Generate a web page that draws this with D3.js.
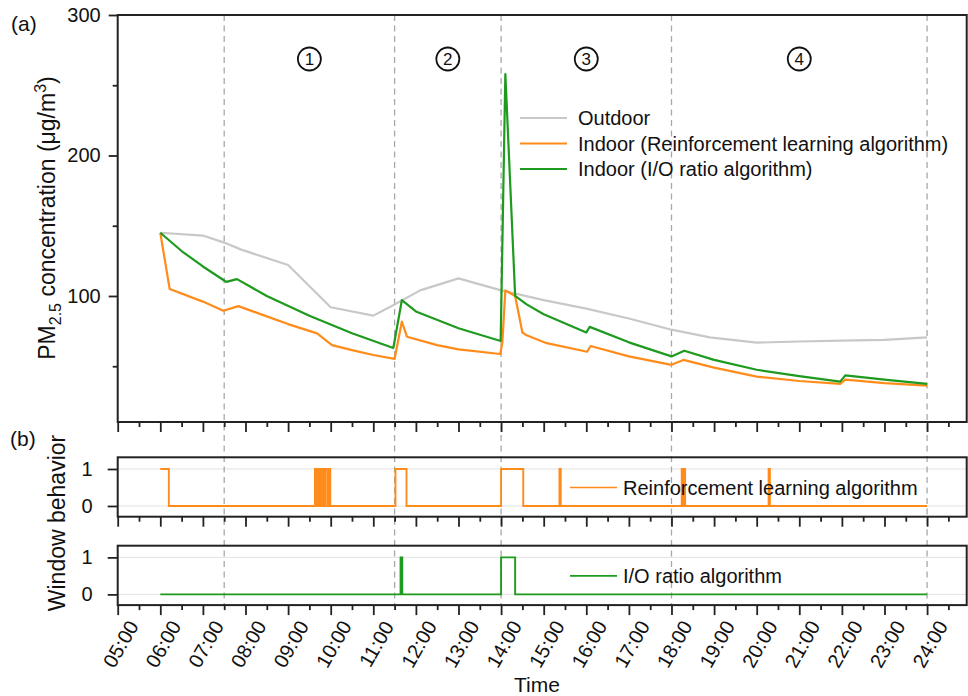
<!DOCTYPE html>
<html>
<head>
<meta charset="utf-8">
<script src="https://cdn.jsdelivr.net/npm/d3@7"></script>
<style>
  body { margin: 0; background: #fff; }
  text { font-family: "Liberation Sans", Arial, sans-serif; fill: #111; }
</style>
</head>
<body>
<div id="chart"></div>
<script>
// hours of day (decimal) and PM2.5 values
const outTime = [6.0, 7.0, 7.5, 7.9, 9.0, 10.0, 11.0, 11.5, 12.1, 13.0, 14.0, 15.0, 16.0, 17.0, 18.0, 18.9, 20.0, 21.0, 22.0, 23.0, 24.0];
const outVal = [145, 143, 138, 133, 122, 92, 86, 94, 104, 112.5, 104, 97, 91, 84, 76, 70.5, 66.8, 67.6, 68.2, 68.7, 70.6];

const rlTime = [6.0, 6.22, 7.0, 7.48, 7.83, 8.5, 9.0, 9.68, 10.03, 10.5, 11.0, 11.5, 11.67, 11.79, 12.5, 13.0, 13.98, 14.03, 14.1, 14.33, 14.5, 14.6, 15.07, 16.02, 16.1, 17.0, 18.0, 18.28, 19.0, 20.0, 21.0, 21.96, 22.08, 23.0, 24.0];
const rlVal = [145, 105, 96, 89.5, 92.8, 85.5, 80, 73.4, 65, 61.5, 58, 55.2, 81.7, 71, 65, 62, 58.7, 67, 104, 100, 74, 72, 66.4, 60.3, 64.4, 57, 51, 54.5, 49, 42.6, 39.5, 37.4, 40.5, 38, 36.2];

const ioTime = [6.0, 6.5, 7.0, 7.5, 7.55, 7.8, 8.5, 9.5, 10.5, 11.47, 11.67, 12.0, 13.0, 13.99, 14.1, 14.33, 14.6, 15.0, 16.0, 16.08, 17.0, 18.0, 18.3, 19.0, 20.0, 21.0, 21.96, 22.08, 23.0, 24.0];
const ioVal = [145, 132, 121, 111, 110, 112, 100, 86, 73.5, 63, 97, 89, 77, 68, 258, 100, 94, 87, 74, 78, 67, 57, 61, 54.5, 47.5, 43, 39, 43.5, 40.5, 37.4];

// window open (1) / closed (0), value holds until next change
const rlWinTime = [6.0, 6.2, 9.63, 9.66, 9.68, 9.71, 9.73, 9.76, 9.78, 9.81, 9.83, 9.86, 9.88, 9.93, 9.95, 9.99, 11.52, 11.78, 14.0, 14.52, 15.37, 15.40, 18.24, 18.27, 18.29, 18.32, 20.28, 20.31, 24.0];
const rlWinState = [1, 0, 1, 0, 1, 0, 1, 0, 1, 0, 1, 0, 1, 0, 1, 0, 1, 0, 1, 0, 1, 0, 1, 0, 1, 0, 1, 0, 0];
const ioWinTime = [6.0, 11.64, 11.68, 14.0, 14.33, 24.0];
const ioWinState = [0, 1, 0, 1, 0, 0];

const hourTicks = [5, 6, 7, 8, 9, 10, 11, 12, 13, 14, 15, 16, 17, 18, 19, 20, 21, 22, 23, 24];
const hourLabels = ["05:00", "06:00", "07:00", "08:00", "09:00", "10:00", "11:00", "12:00", "13:00", "14:00",
  "15:00", "16:00", "17:00", "18:00", "19:00", "20:00", "21:00", "22:00", "23:00", "24:00"];
const halfTicks = [5.5, 6.5, 7.5, 8.5, 9.5, 10.5, 11.5, 12.5, 13.5, 14.5, 15.5, 16.5, 17.5, 18.5, 19.5, 20.5, 21.5, 22.5, 23.5, 24.5];
const phaseBounds = [7.5, 11.5, 14, 18, 24];
const phaseLabels = ["1", "2", "3", "4"];

const orange = "#ff8c1a", green = "#1e9a1e", grey = "#c8c8c8";

const svg = d3.select("#chart")
  .append("svg")
  .attr("width", 968)
  .attr("height", 696);

const x = d3.scaleLinear().domain([5, 24.93]).range([117.7, 966.7]);
const yA = d3.scaleLinear().domain([10.3, 300]).range([422, 15]);
const yB1 = d3.scaleLinear().domain([-0.29, 1.316]).range([516.7, 457.3]);
const yB2 = d3.scaleLinear().domain([-0.29, 1.316]).range([605.1, 545.7]);

// gridlines at 0 and 1 in the window panels
[yB1, yB2].forEach(y => {
  svg.append("g")
    .selectAll("line")
    .data([0, 1])
    .join("line")
    .attr("x1", x.range()[0])
    .attr("x2", x.range()[1])
    .attr("y1", d => y(d))
    .attr("y2", d => y(d))
    .attr("stroke", "#e2e2e2")
    .attr("stroke-width", 1);
});

// period separators
svg.append("g")
  .selectAll("line")
  .data(phaseBounds)
  .join("line")
  .attr("x1", d => x(d))
  .attr("x2", d => x(d))
  .attr("y1", yA.range()[1])
  .attr("y2", yB2.range()[0])
  .attr("stroke", "#a8a8a8")
  .attr("stroke-width", 1.3)
  .attr("stroke-dasharray", "6,4.5");

// circled period numbers
const mids = phaseLabels.map((d, i) => (phaseBounds[i] + phaseBounds[i + 1]) / 2);
const phase = svg.append("g")
  .selectAll("g")
  .data(phaseLabels)
  .join("g")
  .attr("transform", (d, i) => `translate(${x(mids[i])},59)`);
phase.append("circle")
  .attr("r", 11.5)
  .attr("fill", "none")
  .attr("stroke", "#111")
  .attr("stroke-width", 1.8);
phase.append("text")
  .text(d => d)
  .attr("text-anchor", "middle")
  .attr("dy", "0.36em")
  .style("font-size", "17px");

// panel frames and axes
const panels = [
  { y: yA, top: 15, bottom: 422 },
  { y: yB1, top: 457.3, bottom: 516.7 },
  { y: yB2, top: 545.7, bottom: 605.1 }
];

panels.forEach(p => {
  svg.append("rect")
    .attr("x", x.range()[0])
    .attr("y", p.top)
    .attr("width", x.range()[1] - x.range()[0])
    .attr("height", p.bottom - p.top)
    .attr("fill", "none")
    .attr("stroke", "#222")
    .attr("stroke-width", 2);

  const major = svg.append("g")
    .attr("transform", `translate(0,${p.bottom})`)
    .call(d3.axisBottom(x).tickValues(hourTicks).tickSize(10).tickFormat(""));
  const minor = svg.append("g")
    .attr("transform", `translate(0,${p.bottom})`)
    .call(d3.axisBottom(x).tickValues(halfTicks.filter(d => d < 24.9)).tickSize(5).tickFormat(""));
  [major, minor].forEach(g => {
    g.select(".domain").remove();
    g.selectAll("line").attr("stroke", "#222").attr("stroke-width", 1.8);
  });
});

// y axis panel (a)
const yMajor = svg.append("g")
  .attr("transform", `translate(${x.range()[0]},0)`)
  .call(d3.axisLeft(yA).tickValues([100, 200, 300]).tickSize(9).tickPadding(8));
const yMinor = svg.append("g")
  .attr("transform", `translate(${x.range()[0]},0)`)
  .call(d3.axisLeft(yA).tickValues([50, 150, 250]).tickSize(5).tickFormat(""));

// y axes panel (b)
const yWin = [yB1, yB2].map(y => svg.append("g")
  .attr("transform", `translate(${x.range()[0]},0)`)
  .call(d3.axisLeft(y).tickValues([0, 1]).tickFormat(d3.format("d")).tickSize(10).tickPadding(15)));

[yMajor, yMinor, ...yWin].forEach(g => {
  g.select(".domain").remove();
  g.selectAll("line").attr("stroke", "#222").attr("stroke-width", 1.8);
  g.selectAll("text").style("font-size", "20px").attr("fill", "#111");
});

// hour labels under the last panel
svg.append("g")
  .selectAll("text")
  .data(hourTicks)
  .join("text")
  .text((d, i) => hourLabels[i])
  .attr("text-anchor", "middle")
  .attr("dominant-baseline", "central")
  .attr("transform", d => `translate(${x(d) + 3},644) rotate(-60)`)
  .style("font-size", "20px");

// concentration lines
const lineA = d3.line()
  .x(d => x(d[0]))
  .y(d => yA(d[1]));

const seriesA = [
  { name: "Outdoor", color: grey, pts: d3.zip(outTime, outVal) },
  { name: "Indoor (Reinforcement learning algorithm)", color: orange, pts: d3.zip(rlTime, rlVal) },
  { name: "Indoor (I/O ratio algorithm)", color: green, pts: d3.zip(ioTime, ioVal) }
];

svg.append("g")
  .selectAll("path")
  .data(seriesA)
  .join("path")
  .attr("d", d => lineA(d.pts))
  .attr("fill", "none")
  .attr("stroke", d => d.color)
  .attr("stroke-width", 2.2)
  .attr("stroke-linejoin", "round");

// legend panel (a)
const legA = svg.append("g")
  .selectAll("g")
  .data(seriesA)
  .join("g")
  .attr("transform", (d, i) => `translate(520,${118 + i * 25.5})`);
legA.append("line")
  .attr("x1", 0)
  .attr("x2", 47)
  .attr("stroke", d => d.color)
  .attr("stroke-width", 2.2);
legA.append("text")
  .text(d => d.name)
  .attr("x", 58)
  .attr("dy", "0.36em")
  .style("font-size", "20px");

// window behaviour step lines
const winPanels = [
  { y: yB1, color: orange, name: "Reinforcement learning algorithm", pts: d3.zip(rlWinTime, rlWinState) },
  { y: yB2, color: green, name: "I/O ratio algorithm", pts: d3.zip(ioWinTime, ioWinState) }
];

winPanels.forEach(p => {
  const line = d3.line()
    .x(d => x(d[0]))
    .y(d => p.y(d[1]))
    .curve(d3.curveStepAfter);

  svg.append("path")
    .attr("d", line(p.pts))
    .attr("fill", "none")
    .attr("stroke", p.color)
    .attr("stroke-width", 1.9);

  const leg = svg.append("g")
    .attr("transform", `translate(570,${p.y(0.5)})`);
  leg.append("line")
    .attr("x1", 0)
    .attr("x2", 47)
    .attr("stroke", p.color)
    .attr("stroke-width", 1.6);
  leg.append("text")
    .text(p.name)
    .attr("x", 53)
    .attr("dy", "0.36em")
    .style("font-size", "20px");
});

// titles and panel tags
svg.append("text")
  .attr("transform", "translate(55,218) rotate(-90)")
  .attr("text-anchor", "middle")
  .style("font-size", "23px")
  .call(t => {
    t.append("tspan").text("PM");
    t.append("tspan").text("2.5").attr("dy", 6).style("font-size", "16px");
    t.append("tspan").text(" concentration (μg/m").attr("dy", -6);
    t.append("tspan").text("3").attr("dy", -9).style("font-size", "16px");
    t.append("tspan").text(")").attr("dy", 9);
  });

svg.append("text")
  .text("Window behavior")
  .attr("transform", "translate(65,523) rotate(-90)")
  .attr("text-anchor", "middle")
  .style("font-size", "23px");

svg.append("text")
  .text("Time")
  .attr("x", 537)
  .attr("y", 692)
  .attr("text-anchor", "middle")
  .style("font-size", "21px");

svg.append("text").text("(a)").attr("x", 11).attr("y", 31).style("font-size", "21px");
svg.append("text").text("(b)").attr("x", 10).attr("y", 446).style("font-size", "21px");
</script>
</body>
</html>
